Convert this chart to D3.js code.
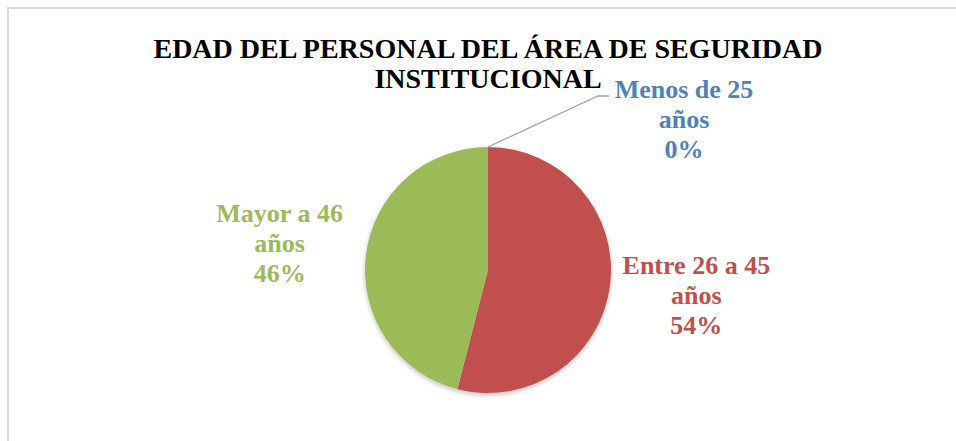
<!DOCTYPE html>
<html>
<head>
<meta charset="utf-8">
<script src="https://cdn.jsdelivr.net/npm/d3@7"></script>
<style>
  html, body { margin: 0; padding: 0; background: #fff; }
  #chart { position: relative; width: 956px; height: 441px; overflow: hidden; }
  svg { display: block; position: absolute; left: 0; top: 0; }
  .lbl {
    position: absolute;
    text-align: center;
    white-space: nowrap;
    transform: translate(-50%, 0);
  }
</style>
</head>
<body>
<div id="chart"></div>
<script>
// Chart data
const categories = ["Menos de 25 años", "Entre 26 a 45 años", "Mayor a 46 años"];
const labelLines = [["Menos de 25", "años"], ["Entre 26 a 45", "años"], ["Mayor a 46", "años"]];
const values = [0, 54, 46];
const colors = ["#4F81BD", "#C0504D", "#9BBB59"];
const titleLines = ["EDAD DEL PERSONAL DEL ÁREA DE SEGURIDAD", "INSTITUCIONAL"];

const width = 956, height = 441;
const cx = 488, cy = 270, radius = 123;

const chart = d3.select("#chart");
const svg = chart.append("svg")
    .attr("width", width).attr("height", height);

// chart frame
svg.append("rect")
    .attr("x", 8).attr("y", 8)
    .attr("width", width).attr("height", height)
    .attr("fill", "#fff").attr("stroke", "#d9d9d9").attr("stroke-width", 2);

// soft shadow under the pie
const defs = svg.append("defs");
const shadow = defs.append("filter").attr("id", "shadow")
    .attr("x", "-20%").attr("y", "-20%").attr("width", "140%").attr("height", "140%");
shadow.append("feDropShadow")
    .attr("dx", 0).attr("dy", 2).attr("stdDeviation", 2.5)
    .attr("flood-color", "#000").attr("flood-opacity", 0.25);

// text block as html (line height 30px); y is the first baseline
function textBlock(lines, x, y, size, color) {
    const div = chart.append("div").attr("class", "lbl")
        .attr("style", `left:${x}px;top:${y - 22}px;color:${color};font:bold ${size}px/30px 'Liberation Serif'`);
    div.selectAll("div").data(lines).enter().append("div").text(d => d);
}

// Title
textBlock(titleLines, cx, 56, 28, "#000");

// Pie
const pie = d3.pie().sort(null).value(d => d);
const arcs = pie(values);
const arc = d3.arc().innerRadius(0).outerRadius(radius);

const g = svg.append("g").attr("transform", `translate(${cx},${cy})`);
g.append("g").attr("filter", "url(#shadow)")
    .selectAll("path").data(arcs).enter().append("path")
    .attr("d", arc)
    .attr("fill", (d, i) => colors[i]);

// Labels
const labelRadius = 210;
const total = d3.sum(values);
arcs.forEach((d, i) => {
    const lines = labelLines[i].concat([Math.round(values[i] / total * 100) + "%"]);
    let lx, ly;
    if (values[i] === 0) {
        // zero slice: label pulled up right with a leader line
        const start = [0, -radius];
        const elbow = [110, -174];
        lx = 196; ly = -173;
        g.append("polyline")
            .attr("points", [start, elbow, [121, -174]].map(p => p.join(",")).join(" "))
            .attr("fill", "none").attr("stroke", "#a6a6a6").attr("stroke-width", 1.3);
    } else {
        const a = (d.startAngle + d.endAngle) / 2;
        lx = labelRadius * Math.sin(a);
        ly = -labelRadius * Math.cos(a) - 23;
    }
    textBlock(lines, cx + lx, cy + ly, 26, colors[i]);
});
</script>
</body>
</html>
